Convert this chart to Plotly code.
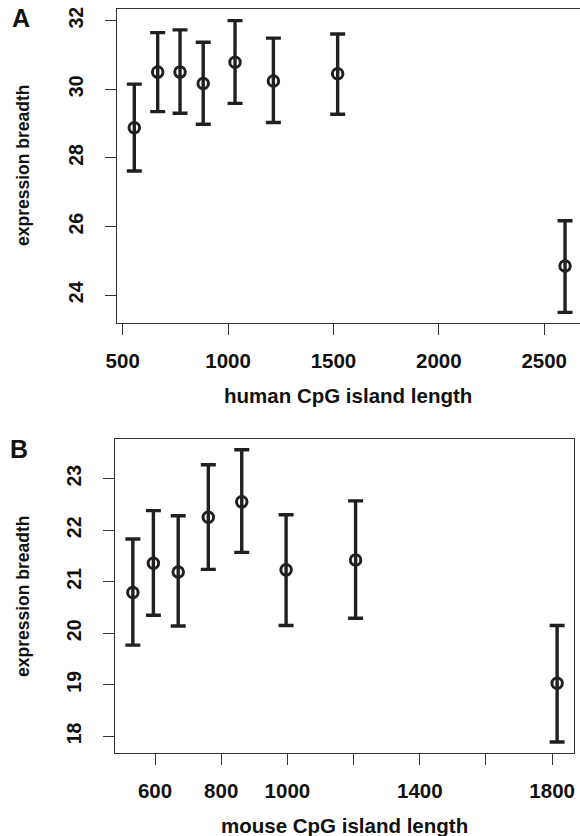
import plotly.graph_objects as go

# Panel A: human
human_len = [555, 666, 772, 882, 1033, 1215, 1520, 2599]
human_mean = [28.88, 30.50, 30.50, 30.17, 30.79, 30.24, 30.45, 24.85]
human_hi = [30.15, 31.65, 31.73, 31.37, 32.00, 31.49, 31.61, 26.17]
human_lo = [27.62, 29.35, 29.30, 28.98, 29.59, 29.03, 29.27, 23.50]

# Panel B: mouse
mouse_len = [533, 595, 670, 761, 862, 996, 1206, 1815]
mouse_mean = [20.79, 21.36, 21.19, 22.25, 22.55, 21.23, 21.42, 19.03]
mouse_hi = [21.83, 22.38, 22.28, 23.27, 23.56, 22.30, 22.57, 20.15]
mouse_lo = [19.77, 20.35, 20.14, 21.24, 21.57, 20.15, 20.29, 17.89]

human_xticks = [500, 1000, 1500, 2000, 2500]
human_yticks = [24, 26, 28, 30, 32]
mouse_xticks = [600, 800, 1000, 1200, 1400, 1600, 1800]
mouse_xlabels = ["600", "800", "1000", "", "1400", "", "1800"]
mouse_yticks = [18, 19, 20, 21, 22, 23]

INK = "#231f20"
TXT = "#111111"
FONT = "Liberation Sans, Arial, sans-serif"
W, H = 580, 836


def trace(x, m, hi, lo, xa, ya):
    return go.Scatter(
        x=x, y=m, mode="markers", xaxis=xa, yaxis=ya, showlegend=False,
        marker=dict(symbol="circle-open", size=10.5, color=INK, line=dict(width=3, color=INK)),
        error_y=dict(type="data", symmetric=False,
                     array=[h - v for h, v in zip(hi, m)],
                     arrayminus=[v - l for v, l in zip(m, lo)],
                     color=INK, thickness=3.4, width=7.5),
    )


fig = go.Figure()
fig.add_trace(trace(human_len, human_mean, human_hi, human_lo, "x", "y"))
fig.add_trace(trace(mouse_len, mouse_mean, mouse_hi, mouse_lo, "x2", "y2"))

axcommon = dict(showgrid=False, zeroline=False, showline=True, linecolor="#333333", linewidth=1.2,
                ticks="outside", ticklen=11, tickwidth=1.2, tickcolor="#333333", automargin=False)
xfont = dict(family=FONT, size=20.5, color=TXT, weight="bold")
yfont = dict(family=FONT, size=19.5, color=TXT, weight="bold")

fig.update_layout(
    width=W, height=H, margin=dict(l=0, r=0, t=0, b=0, pad=0, autoexpand=False),
    paper_bgcolor="white", plot_bgcolor="white",
    xaxis=dict(domain=[116.7 / W, 1.0], range=[471.5, 2670], tickvals=human_xticks,
               anchor="y", mirror=True, ticklabelstandoff=8, tickfont=xfont, **axcommon),
    yaxis=dict(domain=[1 - 323 / H, 1 - 9.3 / H], range=[23.19, 32.33], tickvals=human_yticks,
               anchor="x", tickangle=-90, ticklabelstandoff=14, tickfont=yfont, **axcommon),
    xaxis2=dict(domain=[115 / W, 574 / W], range=[479, 1866], tickvals=mouse_xticks,
                ticktext=mouse_xlabels, anchor="y2", mirror=True, ticklabelstandoff=8,
                tickfont=xfont, **axcommon),
    yaxis2=dict(domain=[1 - 753.3 / H, 1 - 439 / H], range=[17.67, 23.77], tickvals=mouse_yticks,
                anchor="x2", tickangle=-90, mirror=True, ticklabelstandoff=14, tickfont=yfont,
                **axcommon),
)

ann = dict(xref="paper", yref="paper", showarrow=False, xanchor="center", yanchor="middle")
hfont = dict(family=FONT, size=20.5, color=TXT, weight="bold")
vfont = dict(family=FONT, size=17.5, color=TXT, weight="bold")
lfont = dict(family=FONT, size=25, color=TXT, weight="bold")
fig.add_annotation(text="A", x=21 / W, y=1 - 18.5 / H, font=lfont, **ann)
fig.add_annotation(text="B", x=19 / W, y=1 - 449 / H, font=lfont, **ann)
fig.add_annotation(text="expression breadth", x=23 / W, y=1 - 166 / H, textangle=-90, font=vfont, **ann)
fig.add_annotation(text="expression breadth", x=23 / W, y=1 - 597 / H, textangle=-90, font=vfont, **ann)
fig.add_annotation(text="human CpG island length", x=348 / W, y=1 - 395 / H, font=hfont, **ann)
fig.add_annotation(text="mouse CpG island length", x=344 / W, y=1 - 825 / H, font=hfont, **ann)

fig.write_html("out.html", config={"displayModeBar": False},
               post_script="document.body.style.margin='0px';document.body.style.overflow='hidden';")
